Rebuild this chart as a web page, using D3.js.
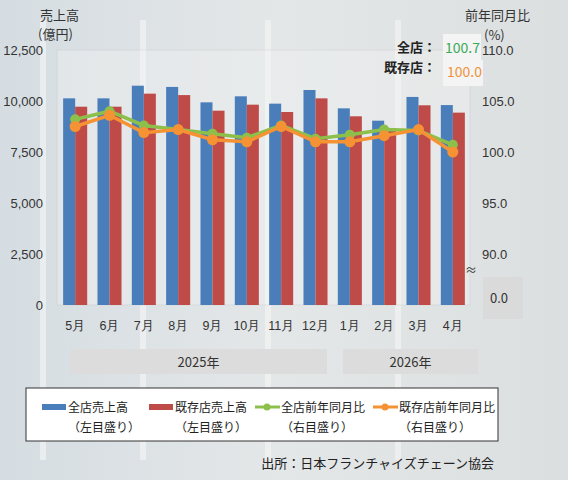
<!DOCTYPE html>
<html><head><meta charset="utf-8">
<script src="https://cdn.jsdelivr.net/npm/d3@7"></script>
<style>body{margin:0}svg{display:block;font-family:"Noto Sans CJK JP",sans-serif}</style>
</head><body>
<svg id="c" width="568" height="480"></svg>
<script>
// data
var months = ["5月","6月","7月","8月","9月","10月","11月","12月","1月","2月","3月","4月"];
var allSales = [10130,10130,10750,10690,9935,10230,9870,10540,9640,9035,10200,9800];
var existSales = [9720,9720,10360,10290,9525,9820,9460,10130,9250,8660,9790,9430];
var allYoy = [103.2,104.0,102.6,102.2,101.8,101.4,102.6,101.3,101.7,102.2,102.1,100.7];
var existYoy = [102.5,103.6,101.9,102.2,101.2,101.0,102.5,101.0,101.0,101.6,102.2,100.0];
var leftTicks = [0,2500,5000,7500,10000,12500];
var rightTicks = [90,95,100,105,110];

var svg = d3.select("#c");
// background standing in for the photo
var g0 = svg.append("defs").append("linearGradient").attr("id","bg").attr("x1",0).attr("x2",1);
g0.append("stop").attr("offset",0).attr("stop-color","#d5dde2");
g0.append("stop").attr("offset",0.5).attr("stop-color","#e4e7e8");
g0.append("stop").attr("offset",1).attr("stop-color","#dcdfe0");
svg.append("rect").attr("width",568).attr("height",480).attr("fill","url(#bg)");
[40,140,265,395].forEach(function(x){
  svg.append("rect").attr("x",x).attr("y",20).attr("width",6).attr("height",440).attr("fill","#f2f3f3").attr("opacity",0.7);
});

var x = d3.scaleBand().domain(months).range([58,470]).paddingInner(0.3).paddingOuter(0.15);
var x2 = d3.scaleBand().domain(["a","b"]).range([0,x.bandwidth()]);
var yL = d3.scaleLinear().domain([0,12500]).range([305,50]);
var yR = d3.scaleLinear().domain([90,110]).range([254,50]);

svg.append("rect").attr("x",57).attr("y",50).attr("width",413).attr("height",255)
  .attr("fill","#f4f5f5").attr("opacity",0.35).attr("stroke","#c8c8c8");

var gb = svg.append("g");
months.forEach(function(m,i){
  gb.append("rect").attr("x",x(m)).attr("y",yL(allSales[i])).attr("width",x2.bandwidth())
    .attr("height",yL(0)-yL(allSales[i])).attr("fill","#4a7ebb");
  gb.append("rect").attr("x",x(m)+x2("b")).attr("y",yL(existSales[i])).attr("width",x2.bandwidth())
    .attr("height",yL(0)-yL(existSales[i])).attr("fill","#be4b48");
});

function drawLine(vals,col,r){
  var line = d3.line().x(function(d,i){return x(months[i])+x.bandwidth()/2;}).y(function(d){return yR(d);});
  svg.append("path").datum(vals).attr("d",line).attr("fill","none").attr("stroke",col).attr("stroke-width",3.5);
  svg.selectAll(null).data(vals).enter().append("circle")
    .attr("cx",function(d,i){return x(months[i])+x.bandwidth()/2;}).attr("cy",function(d){return yR(d);})
    .attr("r",r).attr("fill",col);
}
drawLine(allYoy,"#8cc04b",5);
drawLine(existYoy,"#f59233",5.5);

// axes
var ax = svg.append("g").attr("transform","translate(46,0)")
  .call(d3.axisLeft(yL).tickValues(leftTicks).tickFormat(d3.format(",")).tickSize(0));
ax.select(".domain").remove();
ax.selectAll("text").attr("font-size",13).attr("fill","#333");
var ar = svg.append("g").attr("transform","translate(482,0)")
  .call(d3.axisRight(yR).tickValues(rightTicks).tickFormat(d3.format(".1f")).tickSize(0));
ar.select(".domain").remove();
ar.selectAll("text").attr("font-size",13).attr("fill","#333").attr("x",0);
svg.append("rect").attr("x",483).attr("y",277).attr("width",40).attr("height",42).attr("fill","#d8d8d8").attr("opacity",0.8);
svg.append("text").attr("x",490).attr("y",303).attr("font-size",13).attr("fill","#333").text("0.0");
svg.append("text").attr("x",471).attr("y",275).attr("font-size",12).attr("fill","#333").attr("text-anchor","middle").text("≈");

var ax2 = svg.append("g").attr("transform","translate(0,318)").call(d3.axisBottom(x).tickSize(0));
ax2.select(".domain").remove();
ax2.selectAll("text").attr("font-size",12.5).attr("fill","#333").attr("dy","0.7em");

// titles
svg.append("text").attr("x",40).attr("y",20).attr("font-size",13).attr("fill","#333").text("売上高");
svg.append("text").attr("x",38).attr("y",39).attr("font-size",13).attr("fill","#333").text("(億円)");
svg.append("text").attr("x",465).attr("y",20).attr("font-size",13).attr("fill","#333").text("前年同月比");
svg.append("text").attr("x",484).attr("y",40).attr("font-size",13).attr("fill","#333").text("(%)");

svg.append("rect").attr("x",443).attr("y",34).attr("width",38).attr("height",26).attr("fill","#f4f4f4");
svg.append("rect").attr("x",443).attr("y",60).attr("width",40).attr("height",26).attr("fill","#f4f4f4");
svg.append("text").attr("x",436).attr("y",52).attr("text-anchor","end").attr("font-size",13).attr("font-weight","bold").attr("fill","#222").text("全店：");
svg.append("text").attr("x",436).attr("y",72).attr("text-anchor","end").attr("font-size",13).attr("font-weight","bold").attr("fill","#222").text("既存店：");
svg.append("text").attr("x",445).attr("y",53).attr("font-size",14).attr("fill","#3aaa5a").text(d3.format(".1f")(allYoy[11]));
svg.append("text").attr("x",447).attr("y",77).attr("font-size",14).attr("fill","#f0923a").text(d3.format(".1f")(existYoy[11]));

// year boxes
[["2025年",70,327],["2026年",343,478]].forEach(function(b){
  svg.append("rect").attr("x",b[1]).attr("y",349).attr("width",b[2]-b[1]).attr("height",25).attr("fill","#dcdcdc");
  svg.append("text").attr("x",(b[1]+b[2])/2).attr("y",367).attr("text-anchor","middle").attr("font-size",13).attr("fill","#333").text(b[0]);
});

// legend
svg.append("rect").attr("x",26).attr("y",388).attr("width",472).attr("height",53).attr("fill","#fff").attr("stroke","#333");
var leg = [["全店売上高","（左目盛り）","#4a7ebb","bar",42],["既存店売上高","（左目盛り）","#be4b48","bar",149],
  ["全店前年同月比","（右目盛り）","#8cc04b","line",255],["既存店前年同月比","（右目盛り）","#f59233","line",373]];
leg.forEach(function(l){
  if(l[3]==="bar") svg.append("rect").attr("x",l[4]).attr("y",404).attr("width",24).attr("height",6).attr("fill",l[2]);
  else {
    svg.append("line").attr("x1",l[4]).attr("x2",l[4]+25).attr("y1",407).attr("y2",407).attr("stroke",l[2]).attr("stroke-width",3);
    svg.append("circle").attr("cx",l[4]+12).attr("cy",407).attr("r",3.5).attr("fill",l[2]);
  }
  svg.append("text").attr("x",l[4]+26).attr("y",412).attr("font-size",12).attr("fill","#222").text(l[0]);
  svg.append("text").attr("x",l[4]+26).attr("y",432).attr("font-size",12).attr("fill","#222").text(l[1]);
});
svg.append("text").attr("x",494).attr("y",468).attr("text-anchor","end").attr("font-size",13).attr("fill","#222").text("出所：日本フランチャイズチェーン協会");
</script>
</body></html>
